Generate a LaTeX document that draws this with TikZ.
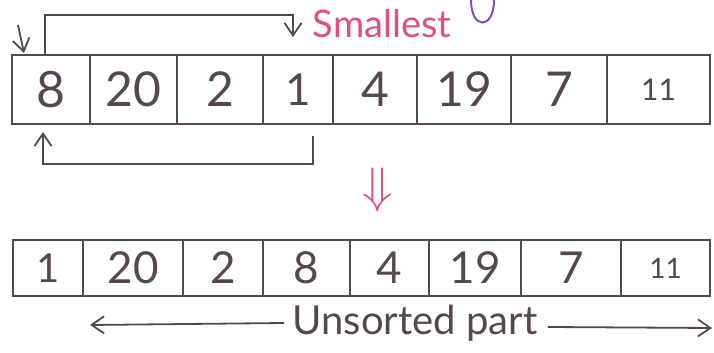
\documentclass[tikz,border=0pt]{standalone}
\usepackage{fontspec}
\setmainfont{Lato}
\usepackage{xcolor}
\usetikzlibrary{arrows.meta,positioning}
\definecolor{ink}{HTML}{55474F}
\definecolor{marker}{HTML}{E0507A}
\definecolor{penviolet}{HTML}{7A50C0}

\begin{document}
\begin{tikzpicture}[x=0.5pt, y=-0.5pt,
  cell/.style={draw=ink, line width=1pt, outer sep=0pt, inner sep=0pt, text=ink},
  arr/.style={draw=ink, line width=0.9pt, -{Straight Barb[length=2.2mm, width=3mm]}},
  note/.style={inner sep=0pt, font=\fontsize{19}{19}\selectfont}]
  \useasboundingbox (0,0) rectangle (714,353);
  % array before the swap
  \foreach \v/\l/\r/\fs [count=\i] in {8/12/90/25, 20/90/177/24, 2/177/263/24, 1/263/333/22,
      4/333/417/24, 19/417/511/24, 7/511/607/24, 11/607/710/15}
    \node[cell, minimum width={(\r-\l)*0.5pt}, minimum height=34.5pt,
          font=\fontsize{\fs}{\fs}\selectfont] (t\i) at ({(\l+\r)/2}, 89.5) {\v};
  % array after the swap
  \foreach \v/\l/\r/\fs [count=\i] in {1/13/83/20, 20/83/183/22, 2/183/263/22, 8/263/350/22,
      4/350/429/22, 19/429/521/22, 7/521/621/22, 11/621/710/14}
    \node[cell, minimum width={(\r-\l)*0.5pt}, minimum height=28pt,
          font=\fontsize{\fs}{\fs}\selectfont] (b\i) at ({(\l+\r)/2}, 268) {\v};
  \node[note, text=marker] (sm) at (382,24) {Smallest};
  \node[inner sep=0pt, text=marker, font=\fontsize{26}{26}\selectfont] (dn) at (378,190) {$\Downarrow$};
  \node[note, text=ink, font=\fontsize{20}{20}\selectfont] (us) at (415,323) {Unsorted part};
  \coordinate (ul) at (90,325);
  \coordinate (ur) at (712,328);
  % swap arrows
  \draw[arr] ([xshift=-3pt]t1.north) -- ++(0,-40) -| ([shift={(-2.5pt,9pt)}]t4.north);
  \draw[arr] ([shift={(3pt,15pt)}]t1.north west) -- ([shift={(6pt,1pt)}]t1.north west);
  \draw[arr] ([shift={(7.5pt,-6pt)}]t4.south) -- ++(0,28) -| ([shift={(-4pt,-4pt)}]t1.south);
  \draw[arr] ([xshift=-4pt]us.west) -- (ul);
  \draw[arr] ([shift={(5pt,-2pt)}]us.east) -- (ur);
  \draw[penviolet, line width=1pt] (471,0) .. controls (471,30) and (494,30) .. (494,0);
\end{tikzpicture}
\end{document}
